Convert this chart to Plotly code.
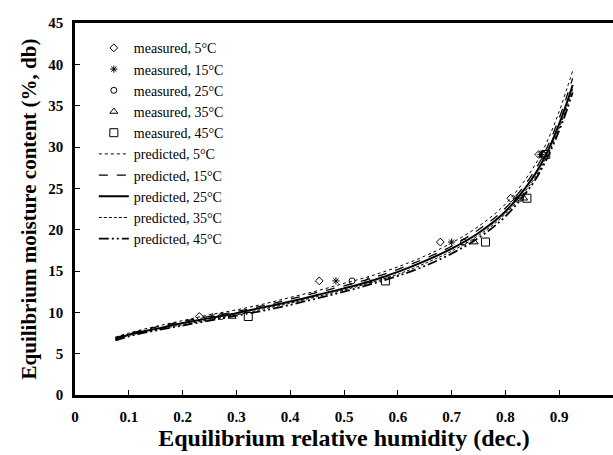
import plotly.graph_objects as go

# ---- data ----
emc_levels = [9.5, 13.8, 18.5, 23.8, 29.1]
meas_erh_5 = [0.231, 0.454, 0.679, 0.810, 0.862]
meas_erh_15 = [0.255, 0.485, 0.700, 0.820, 0.866]
meas_erh_25 = [0.272, 0.515, 0.722, 0.828, 0.869]
meas_erh_35 = [0.292, 0.545, 0.742, 0.834, 0.872]
meas_erh_45 = [0.322, 0.577, 0.763, 0.840, 0.875]

pred_erh = [0.075, 0.1, 0.15, 0.2, 0.25, 0.3, 0.35, 0.4, 0.45, 0.5, 0.55, 0.6,
            0.65, 0.7, 0.75, 0.8, 0.85, 0.875, 0.9, 0.915, 0.925]
pred_emc_5 = [7.0, 7.5, 8.3, 9.0, 9.7, 10.3, 11.0, 11.8, 12.6, 13.5, 14.4, 15.5,
              16.8, 18.4, 20.4, 23.1, 27.3, 30.3, 34.3, 37.2, 39.2]
pred_emc_15 = [6.9, 7.4, 8.2, 8.9, 9.5, 10.1, 10.8, 11.6, 12.4, 13.2, 14.1, 15.2,
               16.5, 18.0, 20.0, 22.6, 26.7, 29.6, 33.5, 36.3, 38.3]
pred_emc_25 = [6.8, 7.3, 8.0, 8.7, 9.3, 9.9, 10.6, 11.3, 12.1, 12.9, 13.8, 14.9,
               16.2, 17.7, 19.6, 22.2, 26.2, 29.0, 32.8, 35.5, 37.5]
pred_emc_35 = [6.7, 7.2, 7.9, 8.5, 9.1, 9.7, 10.4, 11.1, 11.9, 12.7, 13.6, 14.6,
               15.9, 17.4, 19.3, 21.9, 25.8, 28.6, 32.3, 35.0, 37.0]
pred_emc_45 = [6.6, 7.1, 7.8, 8.4, 9.0, 9.6, 10.2, 10.9, 11.7, 12.5, 13.4, 14.4,
               15.6, 17.1, 19.0, 21.6, 25.5, 28.3, 32.0, 34.6, 36.6]

x_ticks = [0, 0.1, 0.2, 0.3, 0.4, 0.5, 0.6, 0.7, 0.8, 0.9, 1]
x_tick_labels = ["0", "0.1", "0.2", "0.3", "0.4", "0.5", "0.6", "0.7", "0.8", "0.9", "1"]
y_ticks = [0, 5, 10, 15, 20, 25, 30, 35, 40, 45]

temps = ["5", "15", "25", "35", "45"]
meas_x = [meas_erh_5, meas_erh_15, meas_erh_25, meas_erh_35, meas_erh_45]
pred_y = [pred_emc_5, pred_emc_15, pred_emc_25, pred_emc_35, pred_emc_45]

symbols = ["diamond-open", "asterisk-open", "circle-open", "triangle-up-open", "square-open"]
msizes = [6, 6, 6, 7, 8]
dashes = ["dot", "dash", "solid", "3px,2px", "10px,3px,2px,3px,2px,3px"]
widths = [1, 1.3, 2, 1, 1.8]

fig = go.Figure()
for t, xs, sym, ms in zip(temps, meas_x, symbols, msizes):
    fig.add_trace(go.Scatter(
        x=xs, y=emc_levels, mode="markers", name=f"measured, {t}°C",
        marker=dict(symbol=sym, size=ms, color="black", line=dict(color="black", width=1)),
    ))
for t, ys, d, w in zip(temps, pred_y, dashes, widths):
    fig.add_trace(go.Scatter(
        x=pred_erh, y=ys, mode="lines", name=f"predicted, {t}°C",
        line=dict(color="black", dash=d, width=w, shape="spline"),
    ))

serif = "Liberation Serif, Times New Roman, serif"
fig.update_layout(
    width=613, height=455,
    margin=dict(l=75, r=0, t=23, b=60),
    paper_bgcolor="white", plot_bgcolor="white",
    font=dict(family=serif, color="black"),
    showlegend=True,
    legend=dict(x=0.035, y=0.975, xanchor="left", yanchor="top",
                bgcolor="rgba(0,0,0,0)", borderwidth=0,
                font=dict(family=serif, size=14, color="black"),
                tracegroupgap=0, itemwidth=30),
)
fig.update_xaxes(
    range=[0, 1.0], tickvals=x_ticks, ticktext=x_tick_labels,
    ticks="inside", ticklen=5, tickwidth=1, tickcolor="black",
    showline=True, linecolor="black", linewidth=2.5, mirror=True,
    showgrid=False, zeroline=False, automargin=False,
    tickfont=dict(family=serif, size=15, color="black", weight="bold"),
    ticklabelstandoff=6,
    title=dict(text="<b>Equilibrium relative humidity (dec.)</b>",
               font=dict(family=serif, size=24, color="black"), standoff=6),
)
fig.update_yaxes(
    range=[0, 45], tickvals=y_ticks,
    ticks="inside", ticklen=5, tickwidth=1, tickcolor="black",
    showline=True, linecolor="black", linewidth=2.5, mirror=False,
    showgrid=False, zeroline=False, automargin=False,
    tickfont=dict(family=serif, size=15, color="black", weight="bold"),
    ticklabelstandoff=6,
    title=dict(text="<b>Equilibrium moisture content (%, db)</b>",
               font=dict(family=serif, size=21, color="black"), standoff=6),
)
fig.write_html("out.html", config={"displayModeBar": False},
               post_script="document.body.style.margin='0';")
